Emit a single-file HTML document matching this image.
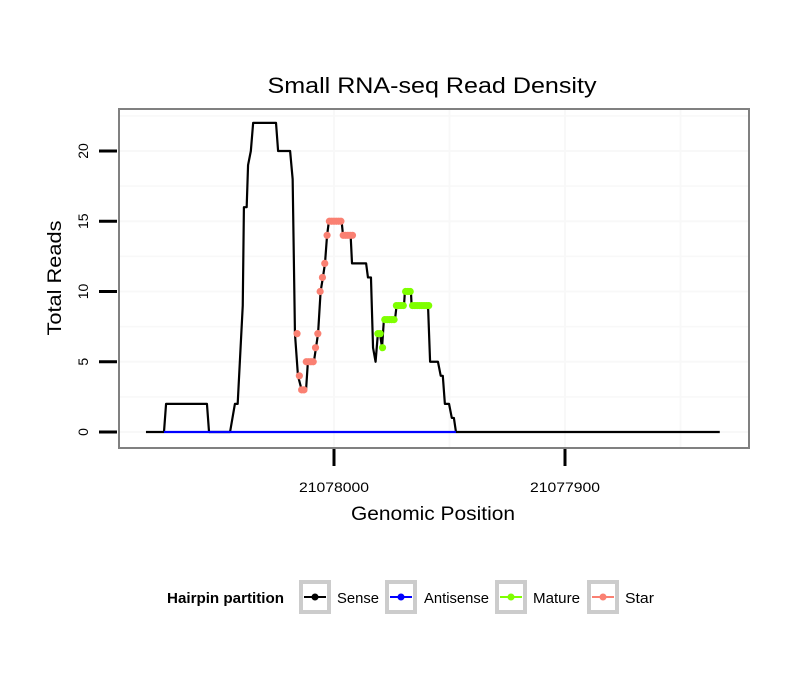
<!DOCTYPE html>
<html><head><meta charset="utf-8"><style>
body{margin:0;background:#fff;}
svg{display:block;font-family:"Liberation Sans",sans-serif;}
</style></head><body>
<svg id="chart" width="810" height="690" xmlns="http://www.w3.org/2000/svg">
<text x="432" y="93" text-anchor="middle" font-size="22" textLength="329" lengthAdjust="spacingAndGlyphs">Small RNA-seq Read Density</text>
<rect x="119" y="109" width="630" height="339" fill="#fff" stroke="#808080" stroke-width="2"/>
<g id="grid"></g>
<g id="yaxis"></g>
<g id="xaxis"></g>
<g id="series"></g>
<text x="433" y="520" text-anchor="middle" font-size="19" textLength="164" lengthAdjust="spacingAndGlyphs">Genomic Position</text>
<text transform="translate(61,278) rotate(-90)" text-anchor="middle" font-size="19" textLength="115" lengthAdjust="spacingAndGlyphs">Total Reads</text>
<g>
<text x="167" y="603" font-size="14.5" font-weight="bold" textLength="117" lengthAdjust="spacingAndGlyphs">Hairpin partition</text>
<g>
<rect x="301" y="582" width="28" height="30" fill="#fff" stroke="#ccc" stroke-width="4"/>
<line x1="304" y1="597" x2="326" y2="597" stroke="#000" stroke-width="2"/><circle cx="315" cy="597" r="3.5" fill="#000"/>
<text x="337" y="603" font-size="15" textLength="42" lengthAdjust="spacingAndGlyphs">Sense</text></g>
<g>
<rect x="387" y="582" width="28" height="30" fill="#fff" stroke="#ccc" stroke-width="4"/>
<line x1="390" y1="597" x2="412" y2="597" stroke="#00f" stroke-width="2"/><circle cx="401" cy="597" r="3.5" fill="#00f"/>
<text x="424" y="603" font-size="15" textLength="65" lengthAdjust="spacingAndGlyphs">Antisense</text></g>
<g>
<rect x="497" y="582" width="28" height="30" fill="#fff" stroke="#ccc" stroke-width="4"/>
<line x1="500" y1="597" x2="522" y2="597" stroke="#7fff00" stroke-width="2"/><circle cx="511" cy="597" r="3.5" fill="#7fff00"/>
<text x="533" y="603" font-size="15" textLength="47" lengthAdjust="spacingAndGlyphs">Mature</text></g>
<g>
<rect x="589" y="582" width="28" height="30" fill="#fff" stroke="#ccc" stroke-width="4"/>
<line x1="592" y1="597" x2="614" y2="597" stroke="#fa8072" stroke-width="2"/><circle cx="603" cy="597" r="3.5" fill="#fa8072"/>
<text x="625" y="603" font-size="15" textLength="29" lengthAdjust="spacingAndGlyphs">Star</text></g>
</g>
</svg>
<script>
const BASE = 21078000;
const senseOffsets = [81.4,73.6,72.7,55,54.1,45,42.9,41.7,39.5,39,37.8,37.2,36,35,25.1,24.2,19,17.9,16.9,15.6,14,12.1,11.3,8.7,6.9,5.8,4.8,3.9,3,2.2,-3.3,-3.9,-7.2,-7.8,-13.9,-14.7,-16,-16.9,-18,-19,-19.9,-20.8,-21.6,-26.4,-27.1,-30.3,-30.7,-33.3,-33.6,-40.7,-41.6,-45,-46.2,-47.1,-48,-49.8,-51,-51.9,-52.8,-167];
const senseReads   = [0,0,2,2,0,0,2,2,9,16,16,19,20,22,22,20,20,18,7,4,3,3,5,5,7,10,11,12,14,15,15,14,14,12,12,11,11,6,5,7,7,6,8,8,9,9,10,10,9,9,5,5,4,4,2,2,1,1,0,0];
const antisenseOffsets = [73.6,-52.8];
const antisenseReads = [0,0];
const starOffsets = [16,15,14,13,12,11,10,9,8,7,6,5,4,3,2,1,0,-1,-2,-3,-4,-5,-6,-7,-8];
const starReads = [7,4,3,3,5,5,5,5,6,7,10,11,12,14,15,15,15,15,15,15,14,14,14,14,14];
const matureOffsets = [-19,-20,-21,-22,-23,-24,-25,-26,-27,-28,-29,-30,-31,-32,-33,-34,-35,-36,-37,-38,-39,-40,-41];
const matureReads = [7,7,6,8,8,8,8,8,9,9,9,9,10,10,10,9,9,9,9,9,9,9,9];
const yTicks = [0,5,10,15,20];
const xTicks = [21078000,21077900];
const xMinor = [21077950,21077850];

const NS="http://www.w3.org/2000/svg";
const X = p => 334 + (BASE - p) * 2.31;
const Y = v => 432 - v * 14.05;
function mk(tag, parent, attrs){const e=document.createElementNS(NS,tag);for(const k in attrs)e.setAttribute(k,attrs[k]);parent.appendChild(e);return e;}
const grid=document.getElementById('grid'), ya=document.getElementById('yaxis'), xa=document.getElementById('xaxis'), ser=document.getElementById('series');
[0,2.5,5,7.5,10,12.5,15,17.5,20,22.5].forEach(v=>{
  const l=mk('line',grid,{x1:120,x2:748,y1:Y(v),y2:Y(v),stroke:'#f8f8f8','stroke-width':v%5===0?2:1.5});
  
  
});
xTicks.concat(xMinor).forEach(p=>{
  const l=mk('line',grid,{x1:X(p),x2:X(p),y1:110,y2:447,stroke:'#f8f8f8','stroke-width':2});
  
  
});
yTicks.forEach(v=>{
  const t=mk('line',ya,{x1:99,x2:117,y1:Y(v),y2:Y(v),stroke:'#000','stroke-width':3});
  
  
  const tx=mk('text',ya,{transform:`translate(88,${Y(v)}) rotate(-90)`,'text-anchor':'middle','font-size':14});
  tx.textContent=v;
  
  
});
xTicks.forEach(p=>{
  const t=mk('line',xa,{x1:X(p),x2:X(p),y1:449,y2:466,stroke:'#000','stroke-width':3});
  
  
  const tx=mk('text',xa,{x:X(p),y:492,'text-anchor':'middle','font-size':14,textLength:70,lengthAdjust:'spacingAndGlyphs'});
  tx.textContent=p;
  
  
});
function line(offs, vals, color, name){
  const pts=offs.map((o,i)=>X(BASE+o)+','+Y(vals[i])).join(' ');
  const pl=mk('polyline',ser,{points:pts,fill:'none',stroke:color,'stroke-width':2.2,'stroke-linejoin':'round'});
  
  
}
function dots(offs, vals, color, name){
  offs.forEach((o,i)=>{
    const c=mk('circle',ser,{cx:X(BASE+o),cy:Y(vals[i]),r:3.6,fill:color});
    
    
  });
}
line(senseOffsets, senseReads, '#000', 'sense-line');
line(antisenseOffsets, antisenseReads, '#00f', 'antisense-line');
dots(starOffsets, starReads, '#fa8072', 'star-point');
dots(matureOffsets, matureReads, '#7fff00', 'mature-point');
</script>
</body></html>
